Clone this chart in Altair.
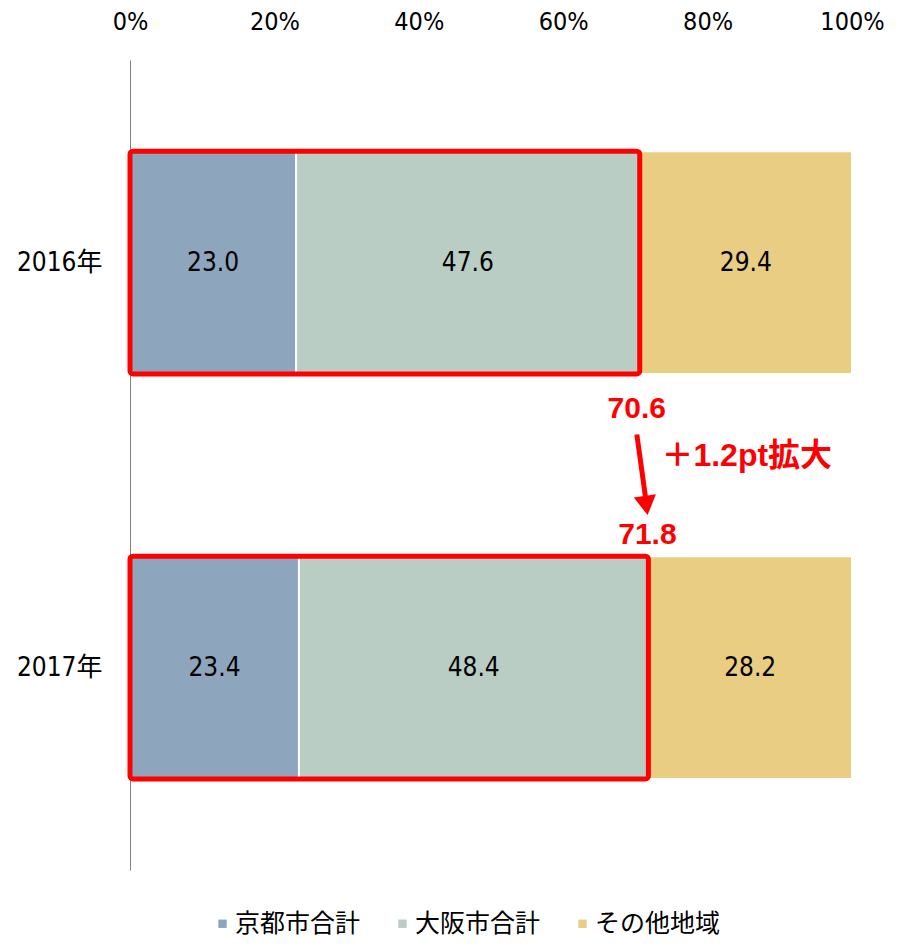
import altair as alt
import pandas as pd

years = ["2016年", "2017年"]
categories = ["京都市合計", "大阪市合計", "その他地域"]
colors = ["#8EA5BE", "#B9CDC4", "#E8CD82"]
kyoto = [23.0, 23.4]
osaka = [47.6, 48.4]
other = [29.4, 28.2]
combined = [70.6, 71.8]
change_label = "＋1.2pt拡大"
arrow_x = [70.2, 71.5]
x_ticks = [0, 20, 40, 60, 80, 100]

rows = []
for i, y in enumerate(years):
    for j, (c, vals) in enumerate(zip(categories, [kyoto, osaka, other])):
        rows.append({"year": y, "cat": c, "order": j, "value": vals[i]})
df = pd.DataFrame(rows)

box_df = pd.DataFrame({"year": years, "start": [0, 0], "end": combined,
                       "label": [f"{v:.1f}" for v in combined]})

NARROW = "DejaVu Sans Condensed, Liberation Sans Narrow, Liberation Sans, Noto Sans CJK JP"
CJK = "Noto Sans CJK JP"
BOLD = "Liberation Sans, Arial, Noto Sans CJK JP"

yenc = alt.Y("year:N", sort=years, title=None,
             scale=alt.Scale(paddingInner=0.45, paddingOuter=0.225),
             axis=alt.Axis(domain=True, domainColor="#808080", domainWidth=1,
                           ticks=False, tickSize=0, labelFontSize=26,
                           labelFont=NARROW, labelColor="#000000",
                           labelPadding=28, labelAngle=0))

xscale = alt.Scale(domain=[0, 100], nice=False, zero=True)
xaxis = alt.Axis(orient="top", values=x_ticks, labelExpr="datum.value + '%'",
                 domain=False, ticks=False, tickSize=0, grid=False,
                 labelFlush=False, labelOverlap=False,
                 labelFontSize=25, labelFont=NARROW, labelColor="#000000",
                 labelPadding=26, title=None)

base = alt.Chart(df).transform_stack(
    stack="value", groupby=["year"], as_=["x0", "x1"],
    sort=[alt.SortField("order", order="ascending")]
).transform_calculate(mid="(datum.x0 + datum.x1) / 2")

bars = base.mark_bar(stroke="white", strokeWidth=2).encode(
    x=alt.X("x0:Q", scale=xscale, axis=xaxis),
    x2="x1:Q",
    y=yenc,
    color=alt.Color("cat:N", sort=categories,
                    scale=alt.Scale(domain=categories, range=colors),
                    legend=alt.Legend(orient="none", direction="horizontal",
                                      legendX=80, legendY=851, title=None,
                                      symbolType="square", symbolSize=70,
                                      symbolStrokeWidth=0, labelFontSize=25,
                                      labelFont=CJK, labelColor="#000000",
                                      labelOffset=0, columnPadding=29,
                                      padding=0, columns=3)),
)

texts = base.mark_text(fontSize=26, font=NARROW, color="#000000").encode(
    x=alt.X("mid:Q", scale=xscale),
    y=alt.Y("year:N", sort=years),
    text=alt.Text("value:Q", format=".1f"),
)

boxes = alt.Chart(box_df).mark_bar(filled=False, stroke="#FF0000", strokeWidth=5,
                                   cornerRadius=3).encode(
    x=alt.X("start:Q", scale=xscale),
    x2="end:Q",
    y=alt.Y("year:N", sort=years),
)

lbl_top = alt.Chart(box_df.iloc[[0]]).mark_text(
    fontSize=30, font=BOLD, fontWeight="bold", color="#FF0000", dx=-3, yOffset=146
).encode(x=alt.X("end:Q", scale=xscale), y=alt.Y("year:N", sort=years), text="label:N")

lbl_bot = alt.Chart(box_df.iloc[[1]]).mark_text(
    fontSize=30, font=BOLD, fontWeight="bold", color="#FF0000", dx=-1, yOffset=-133
).encode(x=alt.X("end:Q", scale=xscale), y=alt.Y("year:N", sort=years), text="label:N")

chg_df = pd.DataFrame({"year": [years[0]], "x": [combined[1]], "label": [change_label]})
lbl_chg = alt.Chart(chg_df).mark_text(
    fontSize=32, font=BOLD, fontWeight="bold", color="#FF0000", align="left",
    dx=13, yOffset=193
).encode(x=alt.X("x:Q", scale=xscale), y=alt.Y("year:N", sort=years), text="label:N")

arrow_df = pd.DataFrame({"y1": [years[0]], "y2": [years[1]],
                         "xa": [arrow_x[0]], "xb": [arrow_x[1]]})
shaft = alt.Chart(arrow_df).mark_rule(color="#FF0000", strokeWidth=5,
                                      yOffset=172, y2Offset=-165).encode(
    x=alt.X("xa:Q", scale=xscale), x2="xb:Q",
    y=alt.Y("y1:N", sort=years), y2="y2:N",
)
head_df = pd.DataFrame({"year": [years[1]], "x": [arrow_x[1]]})
head = alt.Chart(head_df).mark_point(shape="triangle-down", filled=True, size=500,
                                     color="#FF0000", opacity=1, angle=352,
                                     yOffset=-162).encode(
    x=alt.X("x:Q", scale=xscale), y=alt.Y("year:N", sort=years),
)

chart = alt.layer(bars, texts, boxes, shaft, head, lbl_top, lbl_bot, lbl_chg).properties(
    width=722, height=810,
    autosize=alt.AutoSizeParams(type="none"),
    padding={"left": 122, "top": 52, "right": 50, "bottom": 70},
).configure(background="white").configure_view(stroke=None)

chart.save("out.html", embed_options={"renderer": "svg", "actions": False})
